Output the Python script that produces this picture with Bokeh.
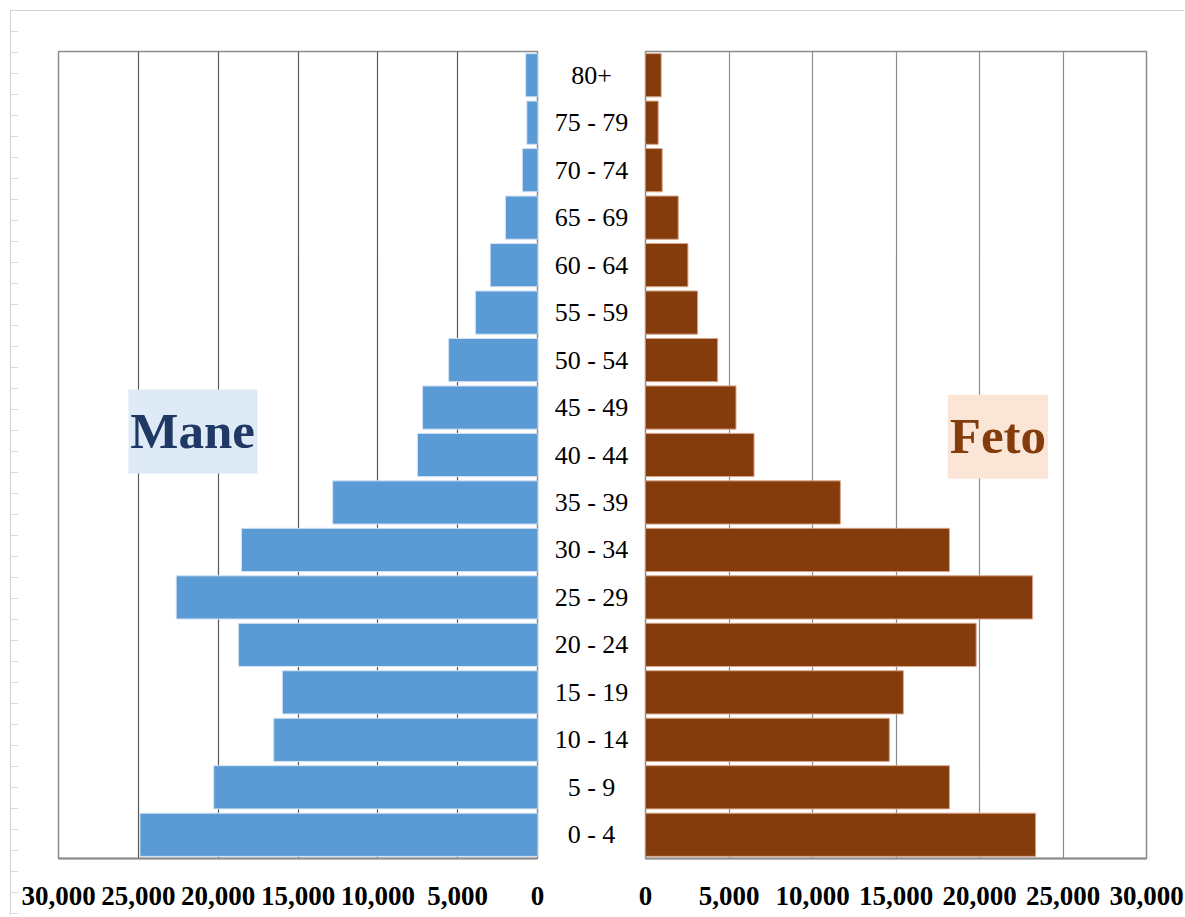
from bokeh.plotting import figure
from bokeh.layouts import row
from bokeh.models import (Range1d, FactorRange, FixedTicker, NumeralTickFormatter,
                          BoxAnnotation, Label, ColumnDataSource)
from bokeh.core.properties import value
from bokeh.embed import file_html
from bokeh.resources import INLINE

age_groups = ["0 - 4", "5 - 9", "10 - 14", "15 - 19", "20 - 24", "25 - 29", "30 - 34",
              "35 - 39", "40 - 44", "45 - 49", "50 - 54", "55 - 59", "60 - 64",
              "65 - 69", "70 - 74", "75 - 79", "80+"]
male = [24900, 20280, 16520, 15980, 18730, 22630, 18540, 12830, 7520, 7200,
        5570, 3890, 2960, 2010, 950, 670, 740]
female = [23360, 18200, 14600, 15440, 19800, 23180, 18200, 11670, 6500, 5420,
          4320, 3120, 2540, 1960, 1000, 760, 940]
tick_values = [0, 5000, 10000, 15000, 20000, 25000, 30000]

src = ColumnDataSource(dict(age=age_groups, male=male, female=female))

H = 915
TOP = 51
BOT = 57
FONT = "Liberation Serif"


def style_axis(p, grid_color):
    p.xgrid.ticker = FixedTicker(ticks=tick_values)
    p.xgrid.grid_line_color = grid_color
    p.xgrid.grid_line_width = 1.2
    p.ygrid.visible = False
    ax = p.xaxis[0]
    ax.ticker = FixedTicker(ticks=tick_values)
    ax.formatter = NumeralTickFormatter(format="0,0")
    ax.major_label_text_font = FONT
    ax.major_label_text_font_style = "bold"
    ax.major_label_text_font_size = "27px"
    ax.major_label_text_color = "black"
    ax.major_label_standoff = 22
    ax.axis_line_color = "#8c8c8c"
    ax.axis_line_width = 2
    ax.major_tick_line_color = None
    ax.minor_tick_line_color = None
    p.outline_line_color = "#8c8c8c"
    p.outline_line_width = 1.5
    p.background_fill_color = "white"
    p.border_fill_color = None


# Left panel (Mane)
pL = figure(width=545, height=H, x_range=Range1d(30000, 0),
            y_range=FactorRange(factors=age_groups, range_padding=0),
            y_axis_location=None, toolbar_location=None, output_backend="svg",
            min_border_left=58, min_border_right=8, min_border_top=TOP, min_border_bottom=BOT)
style_axis(pL, "#595959")
pL.hbar(y="age", left=0, right="male", height=0.91, source=src,
        fill_color="#5B9BD5", line_color="#d3e2f3", line_width=1)
pL.add_layout(BoxAnnotation(left=25616, right=17537, bottom=8.11, top=9.88,
                            fill_color="#DEEAF6", fill_alpha=1, line_color=None))
pL.add_layout(Label(x=21600, y=9.0, text="Mane", text_align="center", text_baseline="middle",
                    text_font=FONT, text_font_style="bold", text_font_size="51px",
                    text_color="#1F3864"))

# Middle labels
pM = figure(width=92, height=H, x_range=Range1d(-1, 1),
            y_range=FactorRange(factors=age_groups, range_padding=0),
            x_axis_location=None, y_axis_location=None, toolbar_location=None,
            output_backend="svg", min_border_left=0, min_border_right=0,
            min_border_top=TOP, min_border_bottom=BOT)
pM.xgrid.visible = False
pM.ygrid.visible = False
pM.outline_line_color = None
pM.background_fill_color = "white"
pM.border_fill_color = None
pM.text(x=0, y="age", text="age", source=src, text_align="center", text_baseline="middle",
        text_font=value(FONT), text_font_size="26px", text_color="black")

# Right panel (Feto)
pR = figure(width=547, height=H, x_range=Range1d(0, 30000),
            y_range=FactorRange(factors=age_groups, range_padding=0),
            y_axis_location=None, toolbar_location=None, output_backend="svg",
            min_border_left=8, min_border_right=38, min_border_top=TOP, min_border_bottom=BOT)
style_axis(pR, "#8c8c8c")
pR.hbar(y="age", left=0, right="female", height=0.91, source=src,
        fill_color="#843C0C", line_color="#d9a588", line_width=1)
pR.add_layout(BoxAnnotation(left=18100, right=24100, bottom=8.0, top=9.77,
                            fill_color="#FBE5D6", fill_alpha=1, line_color=None))
pR.add_layout(Label(x=21100, y=8.89, text="Feto", text_align="center", text_baseline="middle",
                    text_font=FONT, text_font_style="bold", text_font_size="51px",
                    text_color="#843C0C"))

frame_bg = ("linear-gradient(#d4d4d4, #d4d4d4) 10px 10px / 100% 1px no-repeat, "
            "linear-gradient(#d4d4d4, #d4d4d4) 10px 10px / 1px 100% no-repeat, "
            "repeating-linear-gradient(to bottom, transparent 0px, transparent 20px, "
            "#dcdcdc 20px, #dcdcdc 21px) 10px 11px / 8px 100% no-repeat, white")

layout = row(pL, pM, pR, styles={"background": frame_bg})
open("out.html", "w").write(file_html(layout, INLINE))
